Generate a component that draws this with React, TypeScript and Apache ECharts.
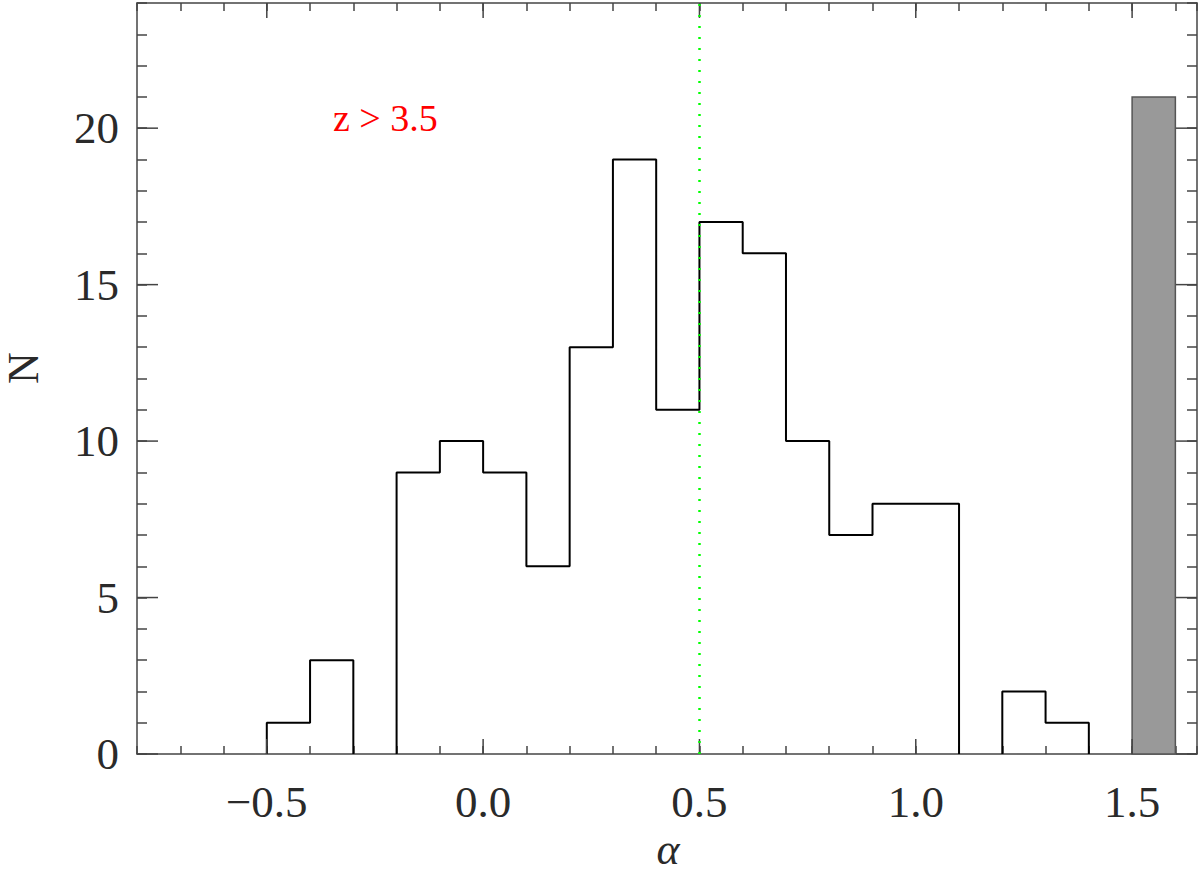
import React, { useEffect, useRef } from 'react';
import * as echarts from 'echarts';

// ---- data ----
const binStart = -0.5;
const binWidth = 0.1;
const counts = [1, 3, 0, 9, 10, 9, 6, 13, 19, 11, 17, 16, 10, 7, 8, 8, 0, 2, 1];
const extraBinStart = [1.5];
const extraBinCount = [21];
const majorXTicks = [-0.5, 0.0, 0.5, 1.0, 1.5];
const majorYTicks = [0, 5, 10, 15, 20];
const markerX = [0.5];
const xMin = -0.8;
const xMax = 1.65;
const yMin = 0;
const yMax = 24;
const annotation = 'z > 3.5';
const xName = 'α';
const yName = 'N';

const FONT = '"Liberation Serif", "DejaVu Serif", serif';
const AXIS_COLOR = '#444';

// histogram outline; zero-count bins leave a gap (the axis shows there)
function buildOutline(): (number[] | null)[] {
  const pts: (number[] | null)[] = [];
  let open = false;
  counts.forEach((c, i) => {
    const l = +(binStart + i * binWidth).toFixed(4);
    const r = +(binStart + (i + 1) * binWidth).toFixed(4);
    if (c === 0) {
      if (open) {
        pts.push([l, 0]);
        pts.push(null);
        open = false;
      }
      return;
    }
    if (!open) {
      pts.push([l, 0]);
      open = true;
    }
    pts.push([l, c]);
    pts.push([r, c]);
  });
  if (open) pts.push([+(binStart + counts.length * binWidth).toFixed(4), 0]);
  return pts;
}

const fmtX = (v: number) => {
  if (Math.abs(v * 2 - Math.round(v * 2)) > 1e-6) return '';
  const s = Math.abs(v).toFixed(1);
  return v < -1e-9 ? '\u2212' + s : s;
};
const fmtY = (v: number) => {
  if (Math.abs(v / 5 - Math.round(v / 5)) > 1e-6 || v > 20.5) return '';
  return String(Math.round(v));
};

export default function App() {
  const ref = useRef<HTMLDivElement>(null);
  useEffect(() => {
    if (!ref.current) return;
    const chart = echarts.init(ref.current, null, { renderer: 'svg' });
    const tickStyle = { color: AXIS_COLOR, width: 1.5 };
    const baseX = {
      type: 'value' as const,
      min: xMin,
      max: xMax,
      interval: 0.1,
      splitLine: { show: false },
      axisLine: { show: true, onZero: false, lineStyle: tickStyle },
      axisTick: { show: true, inside: true, length: 8, lineStyle: tickStyle },
    };
    const baseY = {
      type: 'value' as const,
      min: yMin,
      max: yMax,
      interval: 1,
      splitLine: { show: false },
      axisLine: { show: true, onZero: false, lineStyle: tickStyle },
      axisTick: { show: true, inside: true, length: 10, lineStyle: tickStyle },
    };
    const option: any = {
      animation: false,
      backgroundColor: '#fff',
      grid: { left: 137, right: 1, top: 3, bottom: 119, containLabel: false },
      xAxis: [
        {
          ...baseX,
          position: 'bottom',
          axisLabel: {
            show: true,
            formatter: fmtX,
            fontFamily: FONT,
            fontSize: 45,
            color: '#2a2a2a',
            margin: 25,
            showMinLabel: true,
            showMaxLabel: true,
          },
        },
        { ...baseX, position: 'top', axisLabel: { show: false } },
      ],
      yAxis: [
        {
          ...baseY,
          position: 'left',
          axisLabel: {
            show: true,
            formatter: fmtY,
            fontFamily: FONT,
            fontSize: 45,
            color: '#2a2a2a',
            margin: 18,
          },
        },
        { ...baseY, position: 'right', axisLabel: { show: false } },
      ],
      graphic: [
        {
          type: 'text',
          left: 333,
          top: 99,
          style: { text: annotation, fill: '#ff0000', font: `38px ${FONT}` },
        },
        {
          type: 'text',
          x: 668,
          y: 849,
          style: {
            text: xName,
            fill: '#2a2a2a',
            font: `italic 44px ${FONT}`,
            align: 'center',
            verticalAlign: 'middle',
          },
        },
        {
          type: 'text',
          x: 23,
          y: 368,
          rotation: Math.PI / 2,
          style: {
            text: yName,
            fill: '#2a2a2a',
            font: `44px ${FONT}`,
            align: 'center',
            verticalAlign: 'middle',
          },
        },
      ],
      series: [
        {
          type: 'custom',
          name: 'extra',
          xAxisIndex: 0,
          yAxisIndex: 0,
          z: 2,
          data: extraBinStart.map((s, i) => [s, extraBinCount[i]]),
          renderItem: (params: any, api: any) => {
            const s = api.value(0);
            const c = api.value(1);
            const p1 = api.coord([s, c]);
            const p2 = api.coord([s + binWidth, 0]);
            return {
              type: 'rect',
              shape: { x: p1[0], y: p1[1], width: p2[0] - p1[0], height: p2[1] - p1[1] },
              style: { fill: '#999999', stroke: '#555', lineWidth: 1.5 },
            };
          },
        },
        {
          type: 'line',
          name: 'hist',
          data: buildOutline(),
          connectNulls: false,
          symbol: 'none',
          z: 3,
          lineStyle: { color: '#000', width: 2 },
          markLine: {
            silent: true,
            symbol: 'none',
            label: { show: false },
            lineStyle: { color: '#00ff00', type: [2, 9], width: 2.5 },
            data: markerX.map((v) => ({ xAxis: v })),
          },
        },
        {
          type: 'custom',
          name: 'majorX',
          z: 4,
          data: majorXTicks.map((v) => [v, yMin]),
          renderItem: (params: any, api: any) => {
            const v = api.value(0);
            const b = api.coord([v, yMin]);
            const t = api.coord([v, yMax]);
            const st = { stroke: AXIS_COLOR, lineWidth: 1.5 };
            return {
              type: 'group',
              children: [
                { type: 'line', shape: { x1: b[0], y1: b[1], x2: b[0], y2: b[1] - 15 }, style: st },
                { type: 'line', shape: { x1: t[0], y1: t[1], x2: t[0], y2: t[1] + 15 }, style: st },
              ],
            };
          },
        },
        {
          type: 'custom',
          name: 'majorY',
          z: 4,
          data: majorYTicks.map((v) => [xMin, v]),
          renderItem: (params: any, api: any) => {
            const v = api.value(1);
            const l = api.coord([xMin, v]);
            const r = api.coord([xMax, v]);
            const st = { stroke: AXIS_COLOR, lineWidth: 1.5 };
            return {
              type: 'group',
              children: [
                { type: 'line', shape: { x1: l[0], y1: l[1], x2: l[0] + 21, y2: l[1] }, style: st },
                { type: 'line', shape: { x1: r[0], y1: r[1], x2: r[0] - 21, y2: r[1] }, style: st },
              ],
            };
          },
        },
      ],
    };
    chart.setOption(option);
    return () => chart.dispose();
  }, []);
  return <div ref={ref} style={{ width: 1200, height: 873, position: 'absolute', left: 0, top: 0 }} />;
}
